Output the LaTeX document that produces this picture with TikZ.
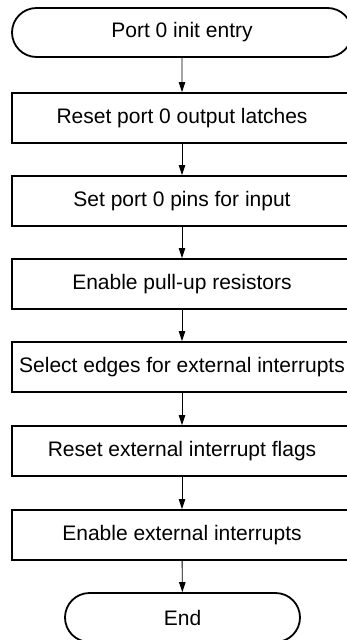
\documentclass[tikz,border=0pt]{standalone}
\usepackage{fontspec}
\setmainfont{Liberation Sans}
\usetikzlibrary{arrows.meta,shapes.misc}
\begin{document}
\begin{tikzpicture}[x=1pt,y=-1pt,
  stepbox/.style={draw,line width=1.8pt,minimum width=340pt,minimum height=50pt,inner sep=0pt,font=\fontsize{21}{24}\selectfont},
  term/.style={draw,line width=1.8pt,rounded rectangle,minimum height=49pt,inner sep=0pt,font=\fontsize{21}{24}\selectfont},
  flow/.style={line width=0.9pt,-{Triangle[length=10pt,width=6.5pt]}}]
\useasboundingbox[clip] (0,0) rectangle (347,640);
\node[term,minimum width=340pt] (s) at (182,32.5) {Port 0 init entry};
\node[stepbox] (b1) at (182,118) {Reset port 0 output latches};
\node[stepbox] (b2) at (182,201) {Set port 0 pins for input};
\node[stepbox] (b3) at (182,284) {Enable pull-up resistors};
\node[stepbox] (b4) at (182,367) {Select edges for external interrupts};
\node[stepbox] (b5) at (182,451) {Reset external interrupt flags};
\node[stepbox] (b6) at (182,535) {Enable external interrupts};
\node[term,minimum width=235pt] (e) at (182.5,617.5) {End};
\draw[flow] (s) -- (b1);
\draw[flow] (b1) -- (b2);
\draw[flow] (b2) -- (b3);
\draw[flow] (b3) -- (b4);
\draw[flow] (b4) -- (b5);
\draw[flow] (b5) -- (b6);
\draw[flow] (b6) -- (e);
\end{tikzpicture}
\end{document}
